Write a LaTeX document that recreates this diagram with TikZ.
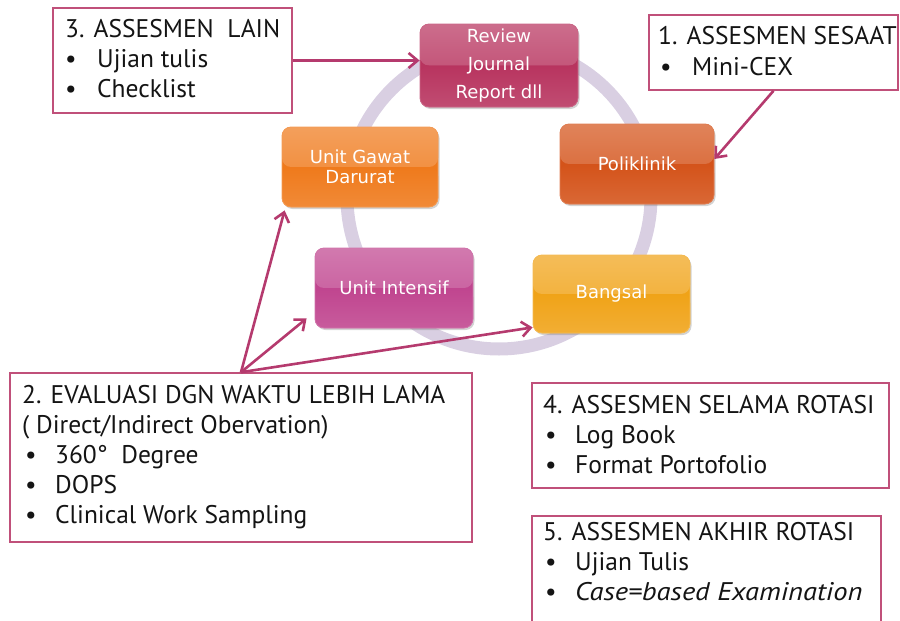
\documentclass[tikz,border=0pt]{standalone}
\usepackage{fontspec}
\setmainfont{PT Sans}
\newfontfamily\cyclefont{DejaVu Sans}
\usetikzlibrary{arrows.meta,shadows}

\definecolor{framecol}{HTML}{C0507A}
\definecolor{arrowcol}{HTML}{B53A6E}
\definecolor{ringcol}{HTML}{D9CFE2}
\definecolor{rjcol}{HTML}{B8345F}
\definecolor{ugdcol}{HTML}{EF7A1C}
\definecolor{policol}{HTML}{D4531A}
\definecolor{uicol}{HTML}{C0458F}
\definecolor{bgcol}{HTML}{F0A318}
\definecolor{inkcol}{HTML}{141414}

\tikzset{
  infobox/.style={draw=framecol, line width=1.6pt, fill=white, inner sep=0pt},
  linetext/.style={anchor=base west, inner sep=0pt, text=inkcol,
                   font=\fontsize{25.5}{30}\selectfont},
  glossy/.style={rounded corners=9pt, inner sep=0pt, text=white,
    draw=#1!75!white, line width=0.8pt, fill=#1,
    drop shadow={shadow xshift=1.5pt, shadow yshift=-2pt, opacity=0.35},
    font=\cyclefont\fontsize{18}{20}\selectfont, align=center,
    path picture={
      \shade[top color=#1!72!white, bottom color=#1!94!white]
        (path picture bounding box.north west) rectangle (path picture bounding box.east);
      \shade[top color=#1, bottom color=#1!88!white]
        (path picture bounding box.west) rectangle (path picture bounding box.south east);
    }},
  conn/.style={draw=arrowcol, line width=2.6pt,
    -{Straight Barb[length=9pt, width=15pt, line width=2.6pt]}},
}
\newcommand{\bul}[1]{\makebox[#1][l]{\textbullet}}

\begin{document}
\begin{tikzpicture}[x=1pt, y=-1pt]
\useasboundingbox (0,0) rectangle (900,621);

% ring behind the cycle of settings
\draw[ringcol, line width=13pt] (499,197) circle[radius=152pt];

% cycle of settings
\node[glossy=rjcol, minimum width=158pt, minimum height=83pt, font=\cyclefont\fontsize{18}{28}\selectfont]
  (rj) at (499,65.5) {Review\\Journal\\Report dll};
\node[glossy=ugdcol, minimum width=156pt, minimum height=80pt]
  (ugd) at (360,167) {Unit Gawat\\Darurat};
\node[glossy=policol, minimum width=154pt, minimum height=80pt]
  (poli) at (637,164) {Poliklinik};
\node[glossy=uicol, minimum width=158pt, minimum height=80pt]
  (ui) at (394,288) {Unit Intensif};
\node[glossy=bgcol, minimum width=157pt, minimum height=78pt]
  (bangsal) at (611.5,294) {Bangsal};

% assessment boxes
\node[infobox, minimum width=239pt, minimum height=105pt] (b3) at (172.5,60.5) {};
\node[infobox, minimum width=249pt, minimum height=75pt] (b1) at (773.5,52.5) {};
\node[infobox, minimum width=462pt, minimum height=169pt] (b2) at (241,457.5) {};
\node[infobox, minimum width=357pt, minimum height=105pt] (b4) at (710.5,435.5) {};
\node[infobox, minimum width=349pt, minimum height=112pt] (b5) at (706.5,572) {};

% texts of box 3
\node[linetext] (t3a) at (65,37) {3. ASSESMEN\ \ LAIN};
\node[linetext] (t3b) at (65,67) {\bul{32pt}Ujian tulis};
\node[linetext] (t3c) at (65,97) {\bul{32pt}Checklist};

% texts of box 1
\node[linetext] (t1a) at (658,45) {1. ASSESMEN SESAAT};
\node[linetext] (t1b) at (660,75) {\bul{32pt}Mini-CEX};

% texts of box 2
\node[linetext] (t2a) at (22,403) {2. EVALUASI DGN WAKTU LEBIH LAMA};
\node[linetext] (t2b) at (22,433) {( Direct/Indirect Obervation)};
\node[linetext] (t2c) at (25,463) {\bul{30pt}360°\ \ Degree};
\node[linetext] (t2d) at (25,493) {\bul{30pt}DOPS};
\node[linetext] (t2e) at (25,523) {\bul{30pt}Clinical Work Sampling};

% texts of box 4
\node[linetext] (t4a) at (543,413) {4. ASSESMEN SELAMA ROTASI};
\node[linetext] (t4b) at (545,443) {\bul{30pt}Log Book};
\node[linetext] (t4c) at (545,473) {\bul{30pt}Format Portofolio};

% texts of box 5
\node[linetext] (t5a) at (543,540) {5. ASSESMEN AKHIR ROTASI};
\node[linetext] (t5b) at (545,570) {\bul{30pt}Ujian Tulis};
\node[linetext] (t5c) at (545,600) {\bul{30pt}\scalebox{1.12}[1]{\textit{Case=based Examination}}};

% connectors
\draw[conn] (b3.east) -- (b3.east -| rj.west);
\draw[conn] (b1.south) -- ([yshift=5pt]poli.east);
\draw[conn] (b2.north) -- ([xshift=3pt,yshift=-3pt]ugd.south west);
\draw[conn] (b2.north) -- ([xshift=-8pt,yshift=10pt]ui.south west);
\draw[conn] (b2.north) -- ([yshift=6pt]bangsal.south west);
\end{tikzpicture}
\end{document}
